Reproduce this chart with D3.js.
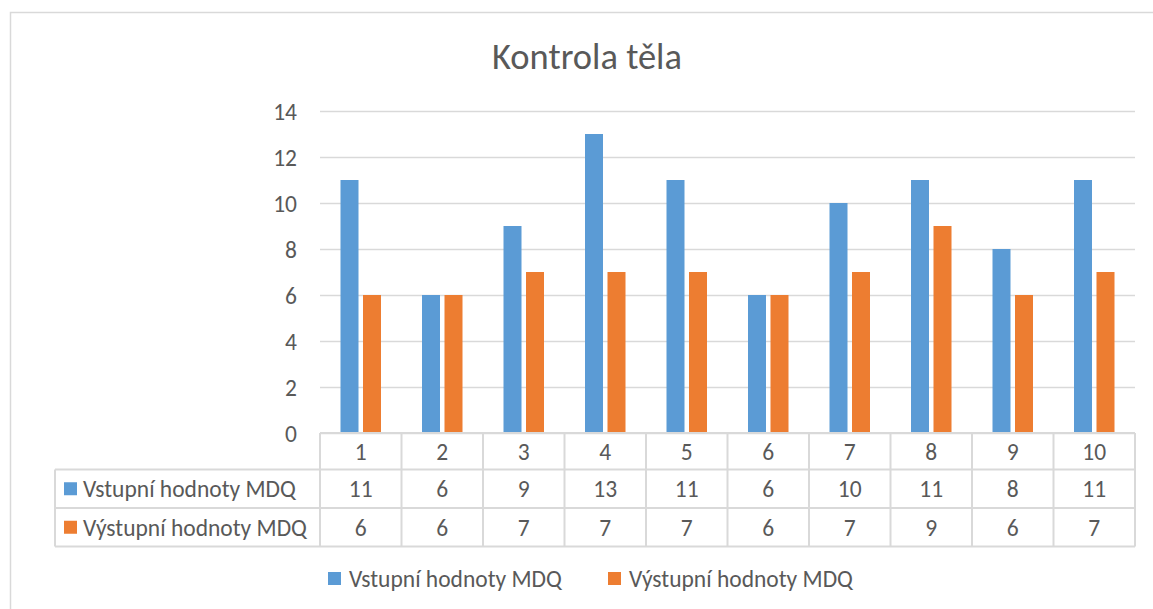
<!DOCTYPE html>
<html>
<head>
<meta charset="utf-8">
<script src="https://cdn.jsdelivr.net/npm/d3@7"></script>
<style>
  body { margin: 0; background: #fff; }
  text { font-family: Carlito, Calibri, Lato, "Open Sans", sans-serif; fill: #595959; }
</style>
</head>
<body>
<div id="chart"></div>
<script>
// data
const title = "Kontrola těla";
const categories = ["1", "2", "3", "4", "5", "6", "7", "8", "9", "10"];
const seriesNames = ["Vstupní hodnoty MDQ", "Výstupní hodnoty MDQ"];
const vstupni = [11, 6, 9, 13, 11, 6, 10, 11, 8, 11];
const vystupni = [6, 6, 7, 7, 7, 6, 7, 9, 6, 7];
const yTicks = [0, 2, 4, 6, 8, 10, 12, 14];
const colors = ["#5B9BD5", "#ED7D31"];

const width = 1153, height = 609;
const plot = { left: 320, right: 1135, top: 111, bottom: 433 };
const rowH = [36.5, 38.5, 38.5];
const labelLeft = 55;
const gridColor = "#D9D9D9";
const fs = "23.5px";

const series = [vstupni, vystupni];

const svg = d3.select("#chart").append("svg")
  .attr("width", width)
  .attr("height", height);

// outer frame
svg.append("rect")
  .attr("x", 10.5).attr("y", 12.5)
  .attr("width", 1200).attr("height", 700)
  .attr("fill", "#fff")
  .attr("stroke", gridColor)
  .attr("stroke-width", 1.5);

svg.append("text")
  .attr("x", 587).attr("y", 69)
  .attr("text-anchor", "middle")
  .style("font-size", "36.5px")
  .text(title);

const x = d3.scaleBand().domain(categories).range([plot.left, plot.right]);
const x1 = d3.scaleBand().domain([0, 1]).range([20.5, 61]).paddingInner(0.2);
const y = d3.scaleLinear().domain([0, 14]).range([plot.bottom, plot.top]);

// gridlines + y labels
const yAxis = d3.axisLeft(y).tickValues(yTicks).tickSize(-(plot.right - plot.left)).tickPadding(23);
const gy = svg.append("g")
  .attr("transform", `translate(${plot.left},0)`)
  .call(yAxis);
gy.select(".domain").remove();
gy.selectAll(".tick line").attr("stroke", gridColor).attr("stroke-width", 1.5);
gy.selectAll(".tick text")
  .attr("fill", "#595959")
  .style("font-size", fs)
  .style("font-family", "Carlito, Calibri, Lato, sans-serif")
  .attr("dy", "0.36em");

// bars
const groups = svg.selectAll("g.series")
  .data(series)
  .enter()
  .append("g")
  .attr("class", "series")
  .attr("fill", (d, i) => colors[i]);

groups.each(function (vals, si) {
  d3.select(this).selectAll("rect")
    .data(vals)
    .enter()
    .append("rect")
    .attr("x", (d, i) => x(categories[i]) + x1(si))
    .attr("width", x1.bandwidth())
    .attr("y", d => y(d))
    .attr("height", d => y(0) - y(d));
});

// data table
const t0 = plot.bottom;
const t1 = t0 + rowH[0];
const t2 = t1 + rowH[1];
const t3 = t2 + rowH[2];
const table = svg.append("g")
  .attr("stroke", gridColor)
  .attr("stroke-width", 2);

table.append("line").attr("x1", plot.left).attr("x2", plot.right).attr("y1", t0).attr("y2", t0);
[t1, t2, t3].forEach(yy => {
  table.append("line").attr("x1", labelLeft).attr("x2", plot.right).attr("y1", yy).attr("y2", yy);
});
table.append("line").attr("x1", labelLeft).attr("x2", labelLeft).attr("y1", t1).attr("y2", t3);
categories.forEach(c => {
  table.append("line").attr("x1", x(c)).attr("x2", x(c)).attr("y1", t0).attr("y2", t3);
});
table.append("line").attr("x1", plot.right).attr("x2", plot.right).attr("y1", t0).attr("y2", t3);

svg.append("g").selectAll("text")
  .data(categories)
  .enter()
  .append("text")
  .attr("x", d => x(d) + x.bandwidth() / 2)
  .attr("y", (t0 + t1) / 2)
  .attr("dy", "0.36em")
  .attr("text-anchor", "middle")
  .style("font-size", fs)
  .text(d => d);

const rowMid = [(t1 + t2) / 2, (t2 + t3) / 2];
series.forEach((vals, si) => {
  const row = svg.append("g");
  row.selectAll("text")
    .data(vals)
    .enter()
    .append("text")
    .attr("x", (d, i) => x(categories[i]) + x.bandwidth() / 2)
    .attr("y", rowMid[si])
    .attr("dy", "0.36em")
    .attr("text-anchor", "middle")
    .style("font-size", fs)
    .text(d => d);
  row.append("rect")
    .attr("x", 64).attr("y", rowMid[si] - 6.5)
    .attr("width", 13).attr("height", 13)
    .attr("fill", colors[si]);
  row.append("text")
    .attr("x", 83).attr("y", rowMid[si])
    .attr("dy", "0.36em")
    .style("font-size", fs)
    .text(seriesNames[si]);
});

// legend
const legendX = [328, 608];
const legend = svg.append("g");
seriesNames.forEach((name, i) => {
  legend.append("rect")
    .attr("x", legendX[i]).attr("y", 572)
    .attr("width", 13).attr("height", 13)
    .attr("fill", colors[i]);
  legend.append("text")
    .attr("x", legendX[i] + 21).attr("y", 579)
    .attr("dy", "0.36em")
    .style("font-size", fs)
    .text(name);
});
</script>
</body>
</html>
